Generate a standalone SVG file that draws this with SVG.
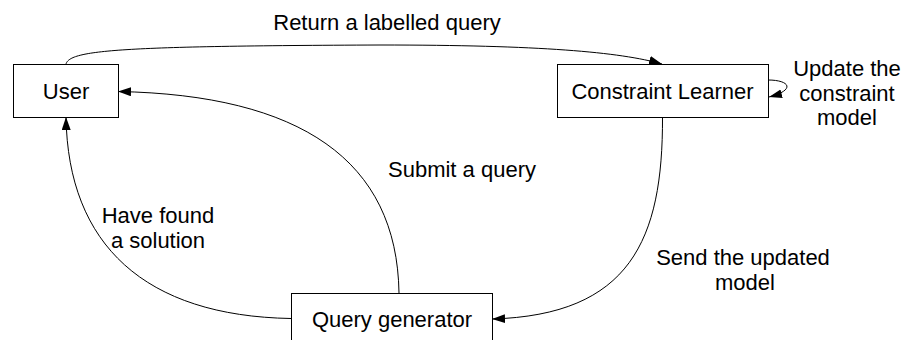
<svg xmlns="http://www.w3.org/2000/svg" width="905" height="340" viewBox="0 0 905 340">
<defs>
<marker id="arr" markerUnits="userSpaceOnUse" markerWidth="14" markerHeight="10" refX="13" refY="4.5" orient="auto">
<path d="M0,0 L13,4.5 L0,9 z" fill="#000"/>
</marker>
<style>
.node{fill:#fff;stroke:#000;stroke-width:1}
.edge{fill:none;stroke:#000;stroke-width:1;marker-end:url(#arr)}
text{font-family:"Liberation Sans",Arial,sans-serif;font-size:22px;fill:#000;text-anchor:middle}
</style>
</defs>
<rect width="905" height="340" fill="#fff"/>
<g id="connectors">
<path class="edge" d="M66,64 C70,50 120,46 380,45 C540,45 620,52 662,64"/>
<path class="edge" d="M399,293 C397,160 300,95 118,91.5"/>
<path class="edge" d="M291,318.5 C145,316 68,245 66,117"/>
<path class="edge" d="M662.5,117 C663,240 630,315 492,319"/>
<path class="edge" d="M768,80 C790,80 796,90 769,97"/>
</g>
<g id="labels">
<text x="387" y="30">Return a labelled query</text>
<text x="462" y="177">Submit a query</text>
<text x="158" y="223">Have found</text>
<text x="158" y="248">a solution</text>
<text x="743" y="265">Send the updated</text>
<text x="745" y="290">model</text>
<text x="847" y="76">Update the</text>
<text x="847" y="100.5">constraint</text>
<text x="847" y="125">model</text>
</g>
<g id="user">
<rect class="node" x="13.5" y="64.5" width="105" height="53"/>
<text x="66" y="98.5">User</text>
</g>
<g id="constraint-learner">
<rect class="node" x="557.5" y="64.5" width="211" height="53"/>
<text x="662.5" y="98.5">Constraint Learner</text>
</g>
<g id="query-generator">
<rect class="node" x="291.5" y="293.5" width="201" height="53"/>
<text x="392" y="327">Query generator</text>
</g>
</svg>
